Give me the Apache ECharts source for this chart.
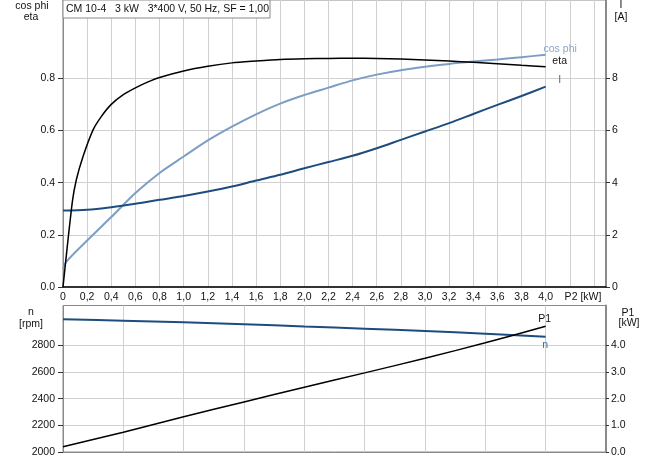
<!DOCTYPE html>
<html>
<head>
<meta charset="utf-8">
<script src="https://cdn.jsdelivr.net/npm/echarts@6.0.0/dist/echarts.min.js"></script>
<style>
html,body{margin:0;padding:0;background:#fff;}
#c{width:656px;height:460px;}
</style>
</head>
<body>
<div id="c"></div>
<script>
// ---- data ----
const titleText = 'CM 10-4   3 kW   3*400 V, 50 Hz, SF = 1,00';
const p2Eta = [0, 0.077, 0.11, 0.166, 0.25, 0.32, 0.4, 0.5, 0.6, 0.7, 0.8, 1.0, 1.2, 1.4, 1.6, 1.8, 2.0, 2.2, 2.4, 2.6, 2.8, 3.0, 3.2, 3.4, 3.6, 3.8, 4.0];
const eta   = [0, 0.325, 0.41, 0.5, 0.603, 0.655, 0.70, 0.737, 0.763, 0.785, 0.803, 0.828, 0.846, 0.859, 0.866, 0.872, 0.875, 0.876, 0.877, 0.876, 0.874, 0.87, 0.866, 0.861, 0.856, 0.85, 0.844];
const p2Cos = [0, 0.03, 0.2, 0.4, 0.6, 0.8, 1.0, 1.2, 1.4, 1.6, 1.8, 2.0, 2.2, 2.4, 2.6, 2.8, 3.0, 3.2, 3.4, 3.6, 3.8, 4.0];
const cosPhi = [0.07, 0.098, 0.178, 0.268, 0.36, 0.437, 0.5, 0.562, 0.615, 0.662, 0.703, 0.736, 0.764, 0.792, 0.814, 0.831, 0.844, 0.855, 0.864, 0.872, 0.881, 0.89];
const p2I = [0, 0.2, 0.4, 0.6, 0.8, 1.0, 1.2, 1.4, 1.6, 1.8, 2.0, 2.2, 2.4, 2.6, 2.8, 3.0, 3.2, 3.4, 3.6, 3.8, 4.0];
const currentA = [2.93, 2.96, 3.06, 3.19, 3.34, 3.49, 3.66, 3.85, 4.08, 4.30, 4.55, 4.79, 5.03, 5.32, 5.64, 5.96, 6.28, 6.63, 6.98, 7.32, 7.68];
const p2Low = [0, 0.5, 1.0, 1.5, 2.0, 2.5, 3.0, 3.5, 4.0];
const speedRpm = [2997, 2986, 2974, 2960, 2942, 2926, 2908, 2888, 2866];
const p1kW = [0.2, 0.74, 1.32, 1.88, 2.43, 2.97, 3.52, 4.1, 4.72];
const xTickLabels = [0, 0.2, 0.4, 0.6, 0.8, 1.0, 1.2, 1.4, 1.6, 1.8, 2.0, 2.2, 2.4, 2.6, 2.8, 3.0, 3.2, 3.4, 3.6, 3.8, 4.0];
const effTicks = [0, 0.2, 0.4, 0.6, 0.8];
const currentTicks = [0, 2, 4, 6, 8];
const rpmTicks = [2000, 2200, 2400, 2600, 2800];
const p1Ticks = [0, 1, 2, 3, 4];

const zip = (xs, ys) => xs.map((x, i) => [x, ys[i]]);
const FONT = 'Liberation Sans';
const GRID_C = '#d0d0d0';
const FRAME_C = '#8a8a8a';
const labelBase = {color: '#111', fontFamily: FONT, fontSize: 10.5};

const chart = echarts.init(document.getElementById('c'), null, {renderer: 'canvas'});

const option = {
  animation: false,
  backgroundColor: '#fff',
  grid: [
    {left: 63, right: 50, top: 0, height: 287, show: true, borderColor: FRAME_C, borderWidth: 1, containLabel: false},
    {left: 63, right: 50, top: 305.5, height: 146.5, show: true, borderColor: FRAME_C, borderWidth: 1, containLabel: false}
  ],
  xAxis: [
    {type: 'value', gridIndex: 0, min: 0, max: 4.5, interval: 0.2, position: 'bottom',
     axisLine: {show: true, onZero: false, lineStyle: {color: '#000', width: 1.5}},
     axisTick: {show: false},
     splitLine: {show: true, lineStyle: {color: GRID_C, width: 1}},
     axisLabel: Object.assign({}, labelBase, {margin: 5, customValues: xTickLabels,
       formatter: v => v === 0 ? '0' : v.toFixed(1).replace('.', ',')})},
    {type: 'value', gridIndex: 1, min: 0, max: 4.5, interval: 0.5, position: 'bottom',
     axisLine: {show: true, onZero: false, lineStyle: {color: FRAME_C, width: 1}},
     axisTick: {show: false},
     splitLine: {show: true, lineStyle: {color: GRID_C, width: 1}},
     axisLabel: {show: false}}
  ],
  yAxis: [
    {type: 'value', gridIndex: 0, min: 0, max: 1.1, interval: 0.1, position: 'left',
     axisLine: {show: true, onZero: false, lineStyle: {color: FRAME_C, width: 1}},
     axisTick: {show: true, length: 5, customValues: effTicks, lineStyle: {color: '#333'}},
     splitLine: {show: true, lineStyle: {color: GRID_C, width: 1}},
     axisLabel: Object.assign({}, labelBase, {margin: 8, customValues: effTicks, formatter: v => v.toFixed(1)})},
    {type: 'value', gridIndex: 0, min: 0, max: 11, interval: 1, position: 'right',
     axisLine: {show: true, onZero: false, lineStyle: {color: FRAME_C, width: 2}},
     axisTick: {show: true, length: 4, customValues: currentTicks, lineStyle: {color: '#333'}},
     splitLine: {show: false},
     axisLabel: Object.assign({}, labelBase, {margin: 6, customValues: currentTicks, formatter: v => String(v)})},
    {type: 'value', gridIndex: 1, min: 2000, max: 3100, interval: 100, position: 'left',
     axisLine: {show: true, onZero: false, lineStyle: {color: FRAME_C, width: 1}},
     axisTick: {show: true, length: 5, customValues: rpmTicks, lineStyle: {color: '#333'}},
     splitLine: {show: true, lineStyle: {color: GRID_C, width: 1}},
     axisLabel: Object.assign({}, labelBase, {margin: 8, customValues: rpmTicks, formatter: v => String(v)})},
    {type: 'value', gridIndex: 1, min: 0, max: 5.5, interval: 0.5, position: 'right',
     axisLine: {show: true, onZero: false, lineStyle: {color: FRAME_C, width: 2}},
     axisTick: {show: true, length: 3, customValues: p1Ticks, lineStyle: {color: '#333'}},
     splitLine: {show: false},
     axisLabel: Object.assign({}, labelBase, {margin: 5, customValues: p1Ticks, formatter: v => v.toFixed(1)})}
  ],
  series: [
    {name: 'eta', type: 'line', xAxisIndex: 0, yAxisIndex: 0, data: zip(p2Eta, eta),
     showSymbol: false, smooth: 0.25, lineStyle: {color: '#000', width: 1.5}, z: 4},
    {name: 'cos phi', type: 'line', xAxisIndex: 0, yAxisIndex: 0, data: zip(p2Cos, cosPhi),
     showSymbol: false, smooth: 0.3, lineStyle: {color: '#7d9ec4', width: 2}, z: 3},
    {name: 'I', type: 'line', xAxisIndex: 0, yAxisIndex: 1, data: zip(p2I, currentA),
     showSymbol: false, smooth: 0.3, lineStyle: {color: '#1e4d7d', width: 2}, z: 3},
    {name: 'n', type: 'line', xAxisIndex: 1, yAxisIndex: 2, data: zip(p2Low, speedRpm),
     showSymbol: false, smooth: 0.3, lineStyle: {color: '#1e4d7d', width: 2}, z: 3},
    {name: 'P1', type: 'line', xAxisIndex: 1, yAxisIndex: 3, data: zip(p2Low, p1kW),
     showSymbol: false, smooth: 0.3, lineStyle: {color: '#000', width: 1.5}, z: 4}
  ]
};
chart.setOption(option);

// end labels positioned from the data end points
function endPt(xi, yi, xs, ys) {
  return chart.convertToPixel({xAxisIndex: xi, yAxisIndex: yi}, [xs[xs.length - 1], ys[ys.length - 1]]);
}
const pCos = endPt(0, 0, p2Cos, cosPhi);
const pEta = endPt(0, 0, p2Eta, eta);
const pI = endPt(0, 1, p2I, currentA);
const pN = endPt(1, 2, p2Low, speedRpm);
const pP1 = endPt(1, 3, p2Low, p1kW);

function txt(x, y, text, color, align, size) {
  return {type: 'text', x: x, y: y, z: 100, style: {text: text, fill: color || '#111', font: (size || 10.5) + 'px "' + FONT + '"',
    textAlign: align || 'center', textVerticalAlign: 'middle', align: align || 'center', verticalAlign: 'middle'}};
}

chart.setOption({
  graphic: [
    {type: 'rect', x: 63, y: 0, z: 90, shape: {width: 207, height: 18}, style: {fill: '#fff', stroke: '#8a8a8a', lineWidth: 1}},
    txt(66, 9.5, titleText, '#111', 'left'),
    txt(32, 6, 'cos phi'), txt(31, 17, 'eta'),
    txt(621, 5, 'I'), txt(621, 17, '[A]'),
    txt(583, 297, 'P2 [kW]'),
    txt(31, 312.5, 'n'), txt(31, 324.5, '[rpm]'),
    txt(628, 313, 'P1'), txt(629, 323.5, '[kW]'),
    txt(pCos[0] + 14.5, pCos[1] - 5.5, 'cos phi', '#8aa6c8'),
    txt(pEta[0] + 14, pEta[1] - 5.7, 'eta', '#111'),
    txt(pI[0] + 14, pI[1] - 6.4, 'I', '#4a6f96'),
    txt(pP1[0] - 1, pP1[1] - 6.7, 'P1', '#111'),
    txt(pN[0] - 0.5, pN[1] + 8, 'n', '#3a6a9a')
  ]
});
</script>
</body>
</html>
